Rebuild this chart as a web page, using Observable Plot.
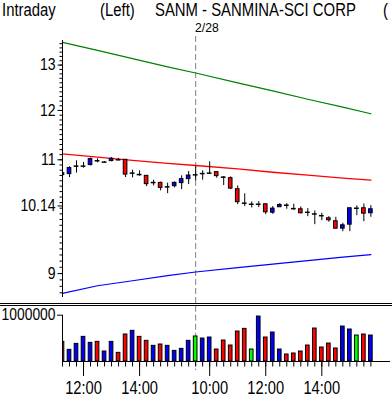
<!DOCTYPE html>
<html><head><meta charset="utf-8">
<script src="https://cdn.jsdelivr.net/npm/d3@7"></script>
<script src="https://cdn.jsdelivr.net/npm/@observablehq/plot@0.6"></script>
<style>
html,body{margin:0;padding:0;background:#fff;}
#wrap{position:relative;width:392px;height:397px;overflow:hidden;font-family:"Liberation Sans",Arial,sans-serif;color:#000;background:#fff;}
.t{position:absolute;font-size:17.5px;white-space:pre;line-height:normal;transform:scaleX(0.85);transform-origin:0 0;z-index:5;}
.d{font-size:13.5px;transform:scaleX(0.9);}
#sep{position:absolute;left:0;top:303px;width:392px;height:1px;border-top:1px solid #000;border-bottom:1px solid #000;z-index:2;}
.panel{position:absolute;left:0;z-index:1;}
</style></head>
<body>
<div id="wrap">
  <div id="price" class="panel" style="top:0px"></div>
  <div id="sep"></div>
  <div id="vol" class="panel" style="top:300px"></div>
  <div class="t" style="left:2px;top:0.2px">Intraday</div>
  <div class="t" style="left:100px;top:0.2px">(Left)</div>
  <div class="t" style="left:155px;top:0.2px">SANM - SANMINA-SCI CORP</div>
  <div class="t" style="left:383px;top:0.2px">(</div>
  <div class="t d" style="left:195px;top:20.4px">2/28</div>
</div>
<script>
// ---- data ----
const day1Times = ["11:15","11:30","11:45","12:00","12:15","12:30","12:45","13:00","13:15","13:30","13:45","14:00","14:15","14:30","14:45","15:00","15:15","15:30","15:45"];
const day2Times = ["9:30","9:45","10:00","10:15","10:30","10:45","11:00","11:15","11:30","11:45","12:00","12:15","12:30","12:45","13:00","13:15","13:30","13:45","14:00","14:15","14:30","14:45","15:00","15:15","15:30","15:45"];
const times = day1Times.concat(day2Times);

const open  = [10.744,10.725,10.878,10.878,10.897,10.981,10.955,10.975,11.000,11.000,10.744,10.717,10.693,10.567,10.561,10.487,10.500,10.556,10.631,
               10.712,10.736,10.744,10.763,10.668,10.649,10.444,10.189,10.170,10.170,10.170,10.020,10.117,10.153,10.092,10.081,10.027,9.997,9.967,9.922,9.870,9.742,9.811,10.099,10.099,10.010];
const high  = [10.820,10.865,10.981,10.947,11.033,11.019,10.967,11.045,11.025,11.000,10.801,10.788,10.693,10.612,10.574,10.556,10.580,10.693,10.775,
               10.865,10.788,10.961,10.763,10.680,10.674,10.505,10.358,10.212,10.216,10.170,10.128,10.182,10.182,10.170,10.122,10.092,10.051,10.010,9.950,9.939,9.835,10.099,10.140,10.176,10.145];
const low   = [10.649,10.661,10.744,10.840,10.884,10.942,10.936,10.961,10.981,10.661,10.655,10.687,10.492,10.505,10.413,10.363,10.468,10.437,10.530,
               10.599,10.612,10.725,10.649,10.511,10.437,10.163,10.128,10.104,10.110,9.985,9.992,10.117,10.081,10.063,9.997,9.950,9.811,9.881,9.853,9.731,9.690,9.690,9.967,9.863,9.939];
const close = [10.706,10.840,10.878,10.878,11.014,10.981,10.955,11.019,11.000,10.717,10.744,10.717,10.537,10.567,10.468,10.487,10.561,10.631,10.699,
               10.712,10.736,10.744,10.687,10.668,10.455,10.207,10.189,10.170,10.170,10.027,10.092,10.158,10.153,10.092,10.010,10.027,9.997,9.967,9.887,9.742,9.800,10.099,10.099,10.003,10.081];

const volume = [424000,252000,381000,532000,403000,424000,216000,424000,187000,583000,662000,532000,446000,338000,367000,338000,230000,273000,446000,
                540000,496000,518000,259000,453000,345000,647000,705000,259000,971000,518000,626000,259000,151000,173000,216000,345000,712000,302000,388000,281000,755000,691000,561000,583000,561000];
const volDir = ["down","up","up","up","up","down","up","up","down","down","up","down","down","up","down","up","up","up","up",
                "flat","up","up","down","down","down","down","down","flat","up","down","up","up","down","down","down","down","down","down","down","down","up","up","flat","down","up"];

// band / average lines, read at these bar positions
const lineIdx   = [0,5,10,15,19,25,30,35,40,44];
const upperBand = [13.53,13.34,13.15,12.96,12.82,12.60,12.42,12.24,12.07,11.93];
const midLine   = [11.117,11.053,10.988,10.932,10.890,10.824,10.761,10.706,10.651,10.612];
const lowerBand = [8.692,8.809,8.887,8.966,9.025,9.094,9.151,9.207,9.264,9.305];

const priceTicks = [9, 10.14, 11, 12, 13];
const volTicks = [1000000];
const dayBreak = day1Times.length; // first bar of 2/28

// ---- build ----
const idx = d3.range(times.length);
const bars = idx.map(i => ({i, o: open[i], h: high[i], l: low[i], c: close[i], v: volume[i], dir: volDir[i]}));
const bodies = bars.filter(d => d.o !== d.c);
const dojis = bars.filter(d => d.o === d.c);
const mkLine = arr => lineIdx.map((i, k) => ({i, v: arr[k]}));
const labeled = idx.filter(i => /^(10|12|14):00$/.test(times[i]));
const minorTicks = d3.range(87, 136).map(d => d / 10);

const font = "'Liberation Sans',Arial,sans-serif";
const style = {fontFamily: font, fontSize: "16.5px", background: "transparent", color: "#000", overflow: "visible"};
const colors = {up: "#0000ff", down: "#ff0000", flat: "#00ff00"};
const xDomain = [0, 46.8];
const frameW = 392 - 62 - 2;
const hw = 0.26;

function condense(svg, sx) {
  svg.querySelectorAll("text").forEach(t => {
    t.setAttribute("transform", (t.getAttribute("transform") || "") + ` scale(${sx},1)`);
  });
  return svg;
}

const price = Plot.plot({
  width: 392, height: 300, marginTop: 40, marginBottom: 3, marginLeft: 62, marginRight: 2,
  style,
  x: {type: "linear", domain: xDomain, axis: null, label: null},
  y: {type: "log", domain: [8.628, 13.576], axis: null, label: null},
  marks: [
    Plot.ruleX([dayBreak], {x: d => d, stroke: "#808080", strokeDasharray: "6,3", insetTop: -4, insetBottom: -6}),
    Plot.line(mkLine(upperBand), {x: "i", y: "v", stroke: "#008000", strokeWidth: 1.2}),
    Plot.line(mkLine(midLine), {x: "i", y: "v", stroke: "#ff0000", strokeWidth: 1.3}),
    Plot.line(mkLine(lowerBand), {x: "i", y: "v", stroke: "#0000ff", strokeWidth: 1.2}),
    Plot.ruleX(bars, {x: "i", y1: "l", y2: "h", stroke: "#000", strokeWidth: 1, clip: true}),
    Plot.rect(bodies, {x1: d => d.i - hw, x2: d => d.i + hw, y1: "o", y2: "c",
      fill: d => d.c > d.o ? colors.up : colors.down, stroke: "#000", strokeWidth: 1, clip: true}),
    Plot.ruleY(dojis, {y: "c", x1: d => d.i - 0.34, x2: d => d.i + 0.34, stroke: "#000", strokeWidth: 1.5, clip: true}),
    Plot.ruleX([0], {stroke: "#000"}),
    // y axis: minor and major ticks, labels
    Plot.ruleY(minorTicks, {y: d => d, insetLeft: -2.5, insetRight: frameW, stroke: "#000"}),
    Plot.ruleY(priceTicks, {y: d => d, insetLeft: -4.5, insetRight: frameW, stroke: "#000"}),
    Plot.text(priceTicks, {y: d => d, frameAnchor: "left", dx: -7, textAnchor: "end", text: d => String(d), fill: "#000"})
  ]
});
document.getElementById("price").appendChild(condense(price, 0.85));

const vol = Plot.plot({
  width: 392, height: 97, marginTop: 14.7, marginBottom: 36, marginLeft: 62, marginRight: 2,
  style,
  x: {type: "linear", domain: xDomain, axis: null, label: null},
  y: {domain: [0, 1000000], axis: null, label: null},
  marks: [
    Plot.ruleX([dayBreak], {x: d => d, stroke: "#808080", strokeDasharray: "6,3", insetTop: -9, insetBottom: -9}),
    Plot.rect(bars, {x1: d => d.i - hw, x2: d => d.i + hw, y1: 0, y2: "v",
      fill: d => colors[d.dir], stroke: "#000", strokeWidth: 1, clip: true}),
    Plot.ruleX([0], {stroke: "#000"}),
    Plot.ruleY([0], {stroke: "#000"}),
    // y axis tick + label
    Plot.ruleY(volTicks, {y: d => d, insetLeft: -5, insetRight: frameW, stroke: "#000"}),
    Plot.text(volTicks, {y: d => d, frameAnchor: "left", dx: -7, textAnchor: "end", text: d => String(d), fill: "#000"}),
    // x axis: a tick per bar, long ticks with labels
    Plot.ruleX(idx, {x: d => d, insetTop: 46.3, insetBottom: -5.5, stroke: "#000"}),
    Plot.ruleX(labeled, {x: d => d, insetTop: 46.3, insetBottom: -15, stroke: "#000"}),
    Plot.text(labeled, {x: d => d, frameAnchor: "bottom", dy: 27, lineAnchor: "middle", text: i => times[i], fontSize: 17.5, fill: "#000"})
  ]
});
document.getElementById("vol").appendChild(condense(vol, 0.84));
</script>
</body></html>
